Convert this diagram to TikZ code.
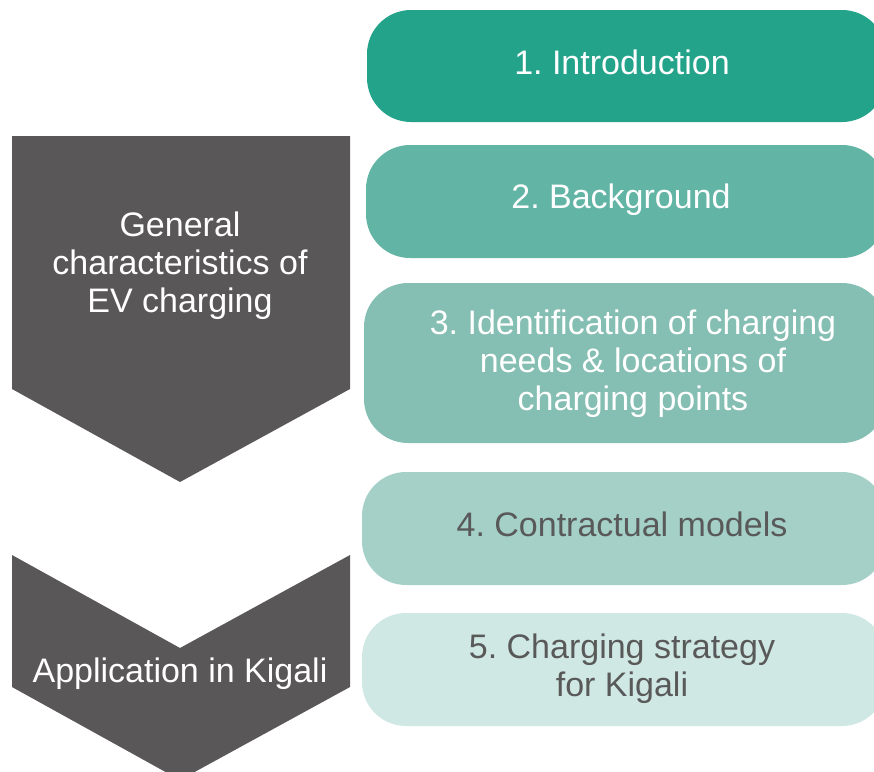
\documentclass[tikz,border=0pt]{standalone}
\usepackage{fontspec}
\setmainfont{Liberation Sans}
\frenchspacing
\definecolor{cA}{HTML}{24A38B}
\definecolor{cB}{HTML}{62B4A5}
\definecolor{cC}{HTML}{85BEB2}
\definecolor{cD}{HTML}{A4D0C8}
\definecolor{cE}{HTML}{D0E8E3}
\definecolor{chev}{HTML}{595758}
\definecolor{dtext}{HTML}{595959}
\tikzset{
  pill/.style={rounded corners=44pt},
  lbl/.style={font=\fontsize{34}{38}\selectfont\frenchspacing, align=center, inner sep=0pt},
  wlbl/.style={lbl, text=white},
  glbl/.style={lbl, text=dtext},
}
\begin{document}
\begin{tikzpicture}[x=1pt,y=-1pt]
\useasboundingbox (0,0) rectangle (874,771);
\clip (0,0) rectangle (874,771);
% right-hand pills
\fill[cA, pill] (367,10) rectangle (886,122);
\fill[cB, pill] (366,145) rectangle (886,258);
\fill[cC, pill] (364,283) rectangle (886,443);
\fill[cD, pill] (362,472) rectangle (886,585);
\fill[cE, pill] (362,613) rectangle (886,726);
\node[wlbl] (t1) at (622,62) {1. Introduction};
\node[wlbl] (t2) at (621,200) {2. Background};
\node[wlbl] (t3) at (633,364) {3. Identification of charging\\needs \& locations of\\charging points};
\node[glbl] (t4) at (622,524) {4. Contractual models};
\node[glbl] (t5) at (622,669) {5. Charging strategy\\for Kigali};
% left chevrons
\fill[chev] (12,136) -- (350,136) -- (350,389) -- (180,482) -- (12,389) -- cycle;
\fill[chev] (12,555) -- (180,648) -- (350,555) -- (350,687) -- (180,780) -- (12,687) -- cycle;
\node[wlbl] (g1) at (180,266) {General\\characteristics of\\EV charging};
\node[wlbl] (g2) at (180,674) {Application in Kigali};
\end{tikzpicture}
\end{document}
